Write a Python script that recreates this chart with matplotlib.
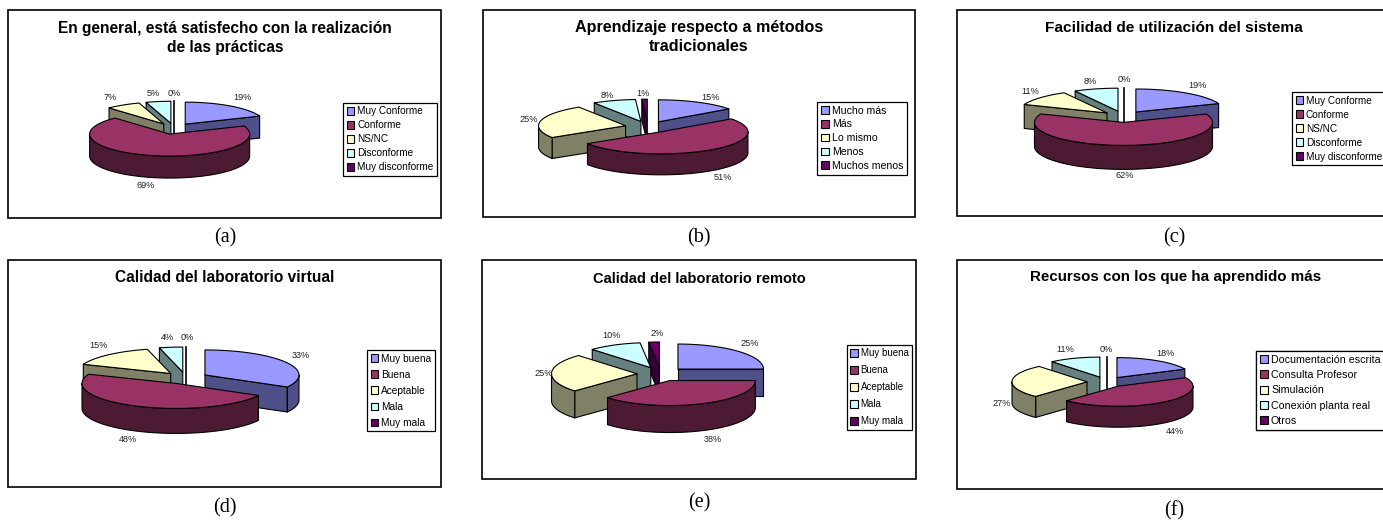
import numpy as np
import matplotlib
matplotlib.use("Agg")
import matplotlib.pyplot as plt
from matplotlib.patches import Polygon, Rectangle, Patch

# ---- data ----
titles = [
    "En general, está satisfecho con la realización\nde las prácticas",
    "Aprendizaje respecto a métodos\ntradicionales",
    "Facilidad de utilización del sistema",
    "Calidad del laboratorio virtual",
    "Calidad del laboratorio remoto",
    "Recursos con los que ha aprendido más",
]
captions = ["(a)", "(b)", "(c)", "(d)", "(e)", "(f)"]

cats_a = ["Muy Conforme", "Conforme", "NS/NC", "Disconforme", "Muy disconforme"]
cats_b = ["Mucho más", "Más", "Lo mismo", "Menos", "Muchos menos"]
cats_c = ["Muy Conforme", "Conforme", "NS/NC", "Disconforme", "Muy disconforme"]
cats_d = ["Muy buena", "Buena", "Aceptable", "Mala", "Muy mala"]
cats_e = ["Muy buena", "Buena", "Aceptable", "Mala", "Muy mala"]
cats_f = ["Documentación escrita", "Consulta Profesor", "Simulación",
          "Conexión planta real", "Otros"]

vals_a = [19, 69, 7, 5, 0]
vals_b = [15, 51, 25, 8, 1]
vals_c = [19, 62, 11, 8, 0]
vals_d = [33, 48, 15, 4, 0]
vals_e = [25, 38, 25, 10, 2]
vals_f = [18, 44, 27, 11, 0]

all_cats = [cats_a, cats_b, cats_c, cats_d, cats_e, cats_f]
all_vals = [vals_a, vals_b, vals_c, vals_d, vals_e, vals_f]

# ---- style and layout (pixel coordinates of the 1383x521 canvas) ----
top_cols = ["#9999FF", "#993366", "#FFFFCC", "#CCFFFF", "#660066"]
side_cols = ["#4F4F8A", "#4D1A33", "#808066", "#668080", "#330033"]

frames = [(8, 10, 441, 218), (483, 10, 915, 217), (957, 10, 1392, 216),
          (8, 260, 441, 487), (482, 260, 916, 479), (957, 260, 1392, 489)]
# cx, cy, rx, ry, depth, explode
pies = [(174, 128.7, 80, 22, 22, 20), (648, 127, 87, 22, 21, 23),
        (1123.5, 116.7, 89, 23, 24, 22), (185.6, 378, 94, 25, 25, 22.5),
        (661, 374, 85.5, 25, 27, 24), (1106.5, 382, 75, 20, 21, 19.5)]
title_xy = [(225, 38), (699, 37), (1174, 28), (225, 278), (699, 279), (1176, 277)]
title_size = [11.2, 11.6, 11.1, 11.2, 10.5, 10.9]
caption_xy = [(225, 238), (699, 238), (1174, 238), (225, 508), (699, 503), (1174, 511)]
legend_xy = [(343, 103), (817, 102), (1292, 92), (367, 350), (847, 345), (1256, 351)]
legend_gap = [0.40, 0.36, 0.40, 0.60, 0.72, 0.50]
legend_font = [7.2, 7.6, 7.2, 7.3, 7.0, 7.7]
label_xy = [
    [(243, 97), (146, 185), (110, 97), (153, 93), (174, 93)],
    [(711, 97), (723, 178), (529, 120), (607, 95), (643, 93)],
    [(1198, 85), (1125, 176), (1030, 92), (1090, 81), (1124, 80)],
    [(301, 355), (128, 440), (99, 346), (167, 338), (187, 338)],
    [(750, 344), (713, 440), (544, 373), (612, 336), (657, 334)],
    [(1166, 353), (1175, 432), (1002, 403), (1065, 350), (1106, 349)],
]

plt.rcParams["font.family"] = ["Liberation Sans", "DejaVu Sans"]
fig = plt.figure(figsize=(13.83, 5.21), dpi=100)
ax = fig.add_axes([0, 0, 1, 1])
ax.set_xlim(0, 1383)
ax.set_ylim(521, 0)
ax.axis("off")


def draw_pie(vals, pie, z0):
    cx, cy, rx, ry, d, e = pie
    k = ry / rx
    total = sum(vals)
    edges = np.cumsum([0] + list(vals)) / total * 2 * np.pi
    order = []
    for i in range(len(vals)):
        order.append((np.cos((edges[i] + edges[i + 1]) / 2), i))
    order.sort(key=lambda p: -p[0])
    z = z0
    for _, i in order:
        t1, t2 = edges[i], edges[i + 1]
        mid = (t1 + t2) / 2
        ox = cx + e * np.sin(mid)
        oy = cy - e * k * np.cos(mid)

        def rim(t):
            return ox + rx * np.sin(t), oy - ry * np.cos(t)

        style = dict(edgecolor="black", linewidth=0.8, joinstyle="round")
        # radial faces seen from the front
        for t, seen in ((t1, np.sin(t1) < -1e-6), (t2, np.sin(t2) > 1e-6)):
            if seen:
                x, y = rim(t)
                ax.add_patch(Polygon([(ox, oy), (x, y), (x, y + d), (ox, oy + d)],
                                     facecolor=side_cols[i], zorder=z, **style))
                z += 1
        # outer wall, front half of the rim only
        a = max(t1, np.pi / 2)
        b = min(t2, 3 * np.pi / 2)
        if b > a:
            t = np.linspace(a, b, 80)
            x, y = rim(t)
            pts = list(zip(x, y)) + list(zip(x[::-1], y[::-1] + d))
            ax.add_patch(Polygon(pts, facecolor=side_cols[i], zorder=z, **style))
            z += 1
        # top face
        t = np.linspace(t1, t2, 120)
        x, y = rim(t)
        pts = [(ox, oy)] + list(zip(x, y))
        if t2 - t1 < 1e-6:
            ax.plot([ox, ox], [oy - ry, oy + d], color="black", lw=1.2, zorder=z)
        else:
            ax.add_patch(Polygon(pts, facecolor=top_cols[i], zorder=z, **style))
        z += 1
    return z


for p in range(6):
    x0, y0, x1, y1 = frames[p]
    ax.add_patch(Rectangle((x0, y0), x1 - x0, y1 - y0, facecolor="white",
                           edgecolor="black", linewidth=1.2, zorder=1))
    draw_pie(all_vals[p], pies[p], 2)
    ax.text(*title_xy[p], titles[p], ha="center", va="center", fontsize=title_size[p],
            fontweight="bold", linespacing=1.4, color="black", zorder=500)
    for v, (lx, ly) in zip(all_vals[p], label_xy[p]):
        ax.text(lx, ly, f"{v}%", ha="center", va="center", fontsize=6.6,
                color="#222222", zorder=500)
    ax.text(*caption_xy[p], captions[p], ha="center", va="center", fontsize=14.5,
            family=["Liberation Serif", "DejaVu Serif"], zorder=500)
    handles = [Patch(facecolor=c, edgecolor="black", linewidth=0.8, label=l)
               for c, l in zip(top_cols, all_cats[p])]
    leg = ax.legend(handles=handles, loc="upper left",
                    bbox_to_anchor=legend_xy[p],
                    bbox_transform=ax.transData, borderaxespad=0,
                    fontsize=legend_font[p],
                    frameon=True, fancybox=False, framealpha=1, edgecolor="black",
                    handlelength=0.75, handleheight=0.75, handletextpad=0.3,
                    labelspacing=legend_gap[p], borderpad=0.35)
    leg.get_frame().set_linewidth(0.9)
    leg.set_zorder(600)
    ax.add_artist(leg)

fig.savefig("out.png", dpi=100, facecolor="white")
